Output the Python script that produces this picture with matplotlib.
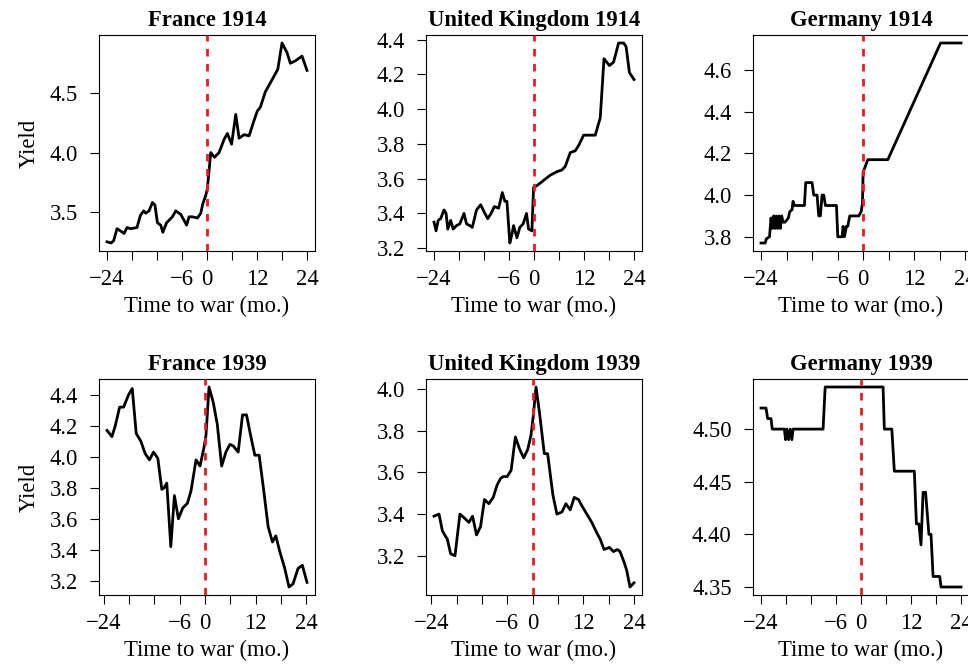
import matplotlib
matplotlib.use('Agg')
import matplotlib.pyplot as plt

'''
Bond yields around the outbreak of war, 1914 and 1939 (France, UK, Germany).
'''

plt.rcParams['font.family'] = ['Liberation Serif', 'DejaVu Serif']

# months relative to outbreak of war, and yields
fr1914_t = [-24.0, -23.0, -22.4, -21.6, -20.7, -19.9, -19.2, -18.3, -16.8, -16.0,
            -15.2, -14.7, -13.9, -13.1, -12.5, -11.9, -11.1, -10.6, -9.7, -8.3,
            -7.5, -6.3, -5.5, -4.9, -4.3, -3.5, -2.3, -1.5, -1.0, -0.3,
            0.1, 0.5, 0.9, 1.8, 2.9, 4.1, 4.9, 5.9, 6.9, 7.7,
            8.9, 10.1, 11.3, 12.1, 12.8, 14.0, 15.6, 17.0, 18.0, 19.2,
            20.0, 21.2, 22.8, 24.0]
fr1914_y = [3.25, 3.24, 3.26, 3.36, 3.34, 3.32, 3.37, 3.36, 3.37, 3.47,
            3.51, 3.49, 3.51, 3.58, 3.56, 3.41, 3.39, 3.33, 3.41, 3.46,
            3.51, 3.48, 3.43, 3.39, 3.46, 3.46, 3.45, 3.49, 3.57, 3.64,
            3.70, 3.85, 4.00, 3.96, 4.00, 4.11, 4.16, 4.07, 4.32, 4.12,
            4.15, 4.14, 4.27, 4.35, 4.38, 4.51, 4.61, 4.70, 4.92, 4.84,
            4.75, 4.77, 4.81, 4.69]

uk1914_t = [-24.0, -23.5, -23.0, -22.4, -21.6, -21.1, -20.7, -20.0, -19.4, -18.6,
            -17.8, -16.8, -16.2, -15.4, -14.8, -13.8, -12.8, -12.0, -11.1, -10.3,
            -9.5, -8.5, -7.6, -7.0, -6.5, -5.8, -5.3, -4.9, -4.1, -3.4,
            -2.6, -1.8, -1.3, -0.5, -0.1, 0.7, 2.3, 3.9, 5.5, 6.7,
            7.5, 8.7, 9.9, 10.7, 11.9, 13.1, 14.7, 15.9, 16.8, 18.1,
            19.1, 20.3, 21.5, 22.1, 22.9, 24.0]
uk1914_y = [3.35, 3.30, 3.36, 3.37, 3.42, 3.40, 3.31, 3.36, 3.31, 3.33,
            3.34, 3.40, 3.34, 3.33, 3.32, 3.42, 3.45, 3.41, 3.37, 3.40,
            3.44, 3.43, 3.52, 3.47, 3.47, 3.23, 3.28, 3.33, 3.26, 3.32,
            3.34, 3.40, 3.31, 3.30, 3.55, 3.56, 3.59, 3.62, 3.64, 3.65,
            3.67, 3.75, 3.76, 3.79, 3.85, 3.85, 3.85, 3.95, 4.29, 4.25,
            4.27, 4.38, 4.38, 4.36, 4.21, 4.17]

de1914_t = [-24.0, -23.0, -22.75, -22.0, -21.65, -21.33, -21.02, -20.71, -20.39, -20.08,
            -19.76, -19.45, -19.14, -18.82, -18.35, -17.57, -17.25, -16.71, -16.47, -16.16,
            -15.69, -13.8, -13.49, -12.0, -11.61, -10.82, -10.43, -10.04, -9.65, -9.25,
            -8.86, -6.27, -5.96, -4.94, -4.71, -4.39, -3.92, -3.61, -3.14, -1.02,
            -0.47, -0.16, 0.0, 0.55, 1.1, 5.8, 18.2, 23.0]
de1914_y = [3.77, 3.77, 3.79, 3.80, 3.89, 3.84, 3.90, 3.84, 3.90, 3.84,
            3.90, 3.84, 3.90, 3.87, 3.87, 3.89, 3.92, 3.93, 3.97, 3.95,
            3.95, 3.95, 4.06, 4.06, 4.00, 4.00, 3.90, 3.90, 4.00, 4.00,
            3.95, 3.95, 3.80, 3.80, 3.85, 3.80, 3.85, 3.85, 3.90, 3.90,
            3.92, 3.96, 4.11, 4.14, 4.17, 4.17, 4.73, 4.73]

fr1939_t = [-23.21, -22.04, -21.25, -20.22, -19.28, -18.10, -17.23, -16.29, -15.19, -14.16,
            -13.14, -12.20, -11.17, -10.23, -9.68, -9.05, -8.10, -7.24, -6.30, -5.27,
            -4.17, -3.31, -2.12, -1.18, -0.24, 0.24, 0.95, 1.96, 2.91, 3.94,
            4.95, 5.90, 6.69, 7.86, 8.89, 9.84, 10.79, 11.80, 12.83, 13.92,
            14.95, 15.98, 16.77, 17.70, 18.89, 19.90, 20.85, 22.04, 23.06, 24.16]
fr1939_y = [4.17, 4.13, 4.20, 4.32, 4.32, 4.40, 4.44, 4.15, 4.10, 4.02,
            3.98, 4.03, 3.99, 3.79, 3.80, 3.83, 3.42, 3.75, 3.60, 3.67,
            3.70, 3.78, 3.98, 3.94, 4.06, 4.14, 4.45, 4.35, 4.21, 3.94,
            4.03, 4.08, 4.07, 4.03, 4.27, 4.27, 4.14, 4.01, 4.01, 3.78,
            3.55, 3.45, 3.49, 3.39, 3.28, 3.16, 3.18, 3.28, 3.30, 3.19]

uk1939_t = [-23.37, -22.18, -21.39, -20.84, -20.22, -19.43, -18.40, -17.23, -16.12, -15.10,
            -14.24, -13.29, -12.34, -11.41, -10.38, -9.35, -8.41, -7.63, -7.00, -6.05,
            -5.10, -4.09, -3.06, -2.12, -1.17, -0.38, 0.09, 0.80, 1.66, 2.76,
            3.55, 4.81, 5.75, 6.94, 7.87, 8.90, 9.85, 10.86, 11.65, 12.83,
            14.01, 15.20, 15.99, 16.92, 18.19, 19.13, 20.07, 20.70, 21.65, 22.28,
            23.06, 24.01]
uk1939_y = [3.39, 3.40, 3.32, 3.30, 3.28, 3.21, 3.20, 3.40, 3.38, 3.36,
            3.39, 3.30, 3.34, 3.47, 3.45, 3.48, 3.54, 3.57, 3.58, 3.58,
            3.61, 3.77, 3.71, 3.67, 3.71, 3.78, 3.86, 4.01, 3.88, 3.69,
            3.69, 3.49, 3.40, 3.41, 3.45, 3.42, 3.48, 3.47, 3.44, 3.40,
            3.36, 3.31, 3.28, 3.23, 3.24, 3.22, 3.23, 3.22, 3.17, 3.13,
            3.05, 3.07]

de1939_t = [-24.0, -22.8, -22.4, -21.6, -21.3, -18.4, -18.1, -17.8, -17.4, -17.0,
            -16.6, -16.3, -9.1, -8.6, 5.3, 5.6, 7.4, 8.0, 12.8, 13.3,
            13.9, 14.4, 14.9, 15.5, 16.3, 16.8, 17.3, 18.9, 19.2, 24.0]
de1939_y = [4.52, 4.52, 4.51, 4.51, 4.50, 4.50, 4.49, 4.50, 4.49, 4.50,
            4.49, 4.50, 4.50, 4.54, 4.54, 4.50, 4.50, 4.46, 4.46, 4.41,
            4.41, 4.39, 4.44, 4.44, 4.40, 4.40, 4.36, 4.36, 4.35, 4.35]

titles = ['France 1914', 'United Kingdom 1914', 'Germany 1914',
          'France 1939', 'United Kingdom 1939', 'Germany 1939']
series = [(fr1914_t, fr1914_y), (uk1914_t, uk1914_y), (de1914_t, de1914_y),
          (fr1939_t, fr1939_y), (uk1939_t, uk1939_y), (de1939_t, de1939_y)]
yticks = [[3.5, 4.0, 4.5],
          [3.2, 3.4, 3.6, 3.8, 4.0, 4.2, 4.4],
          [3.8, 4.0, 4.2, 4.4, 4.6],
          [3.2, 3.4, 3.6, 3.8, 4.0, 4.2, 4.4],
          [3.2, 3.4, 3.6, 3.8, 4.0],
          [4.35, 4.40, 4.45, 4.50]]
ytick_fmt = ['%.1f', '%.1f', '%.1f', '%.1f', '%.1f', '%.2f']
xticks = [-24, -18, -12, -6, 0, 6, 12, 18, 24]
xtick_labels = ['\u221224', '', '', '\u22126', '0', '', '12', '', '24']

RED = '#EC1C24'
FS = 16.3
W, H = 968, 665


def rlim(v):
    # R-style 4% padding on each side
    lo, hi = min(v), max(v)
    r = hi - lo
    return lo - 0.04 * r, hi + 0.04 * r


def main():
    fig = plt.figure(figsize=(W / 100, H / 100), dpi=100)
    lefts = [99, 426, 753]
    tops = [35, 379]
    size = 216

    for i, (t, y) in enumerate(series):
        row, col = divmod(i, 3)
        ax = fig.add_axes([lefts[col] / W, (H - tops[row] - size) / H, size / W, size / H])
        ax.plot(t, y, color='black', lw=2.0, solid_joinstyle='round', zorder=3)
        ax.axvline(0, color=RED, lw=2.0, linestyle=(0, (2.7, 2.7)), zorder=4)

        ax.set_xlim(*rlim(t))
        ax.set_ylim(*rlim(y))
        ax.set_xticks(xticks, xtick_labels)
        ax.set_yticks(yticks[i], [ytick_fmt[i] % v for v in yticks[i]])
        ax.tick_params(axis='both', direction='out', length=6.8, width=0.8,
                       labelsize=FS, color='black')
        ax.tick_params(axis='x', pad=6.3)
        ax.tick_params(axis='y', pad=8.5)
        for s in ax.spines.values():
            s.set_linewidth(0.8)

        ax.set_title(titles[i], fontsize=FS, fontweight='bold', pad=6.7)
        ax.set_xlabel('Time to war (mo.)', fontsize=FS, labelpad=4.4)
        if col == 0:
            ax.set_ylabel('Yield', fontsize=FS, labelpad=7.2)

    fig.savefig('out.png', dpi=100)


if __name__ == "__main__":
    main()
